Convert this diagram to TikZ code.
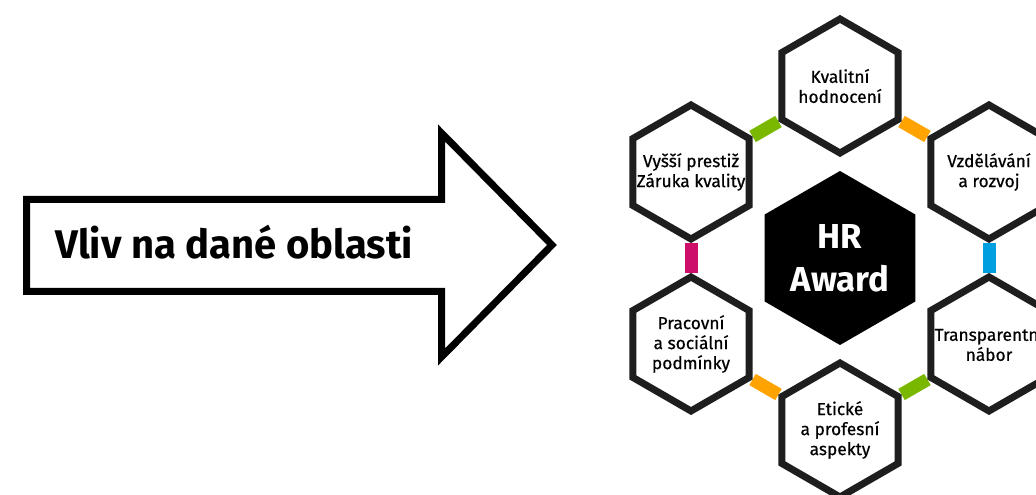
\documentclass[tikz,border=0pt]{standalone}
\usepackage{fontspec}
\setmainfont{Fira Sans}
\newfontfamily\hexfont{Fira Sans}[FakeBold=0.6]
\usetikzlibrary{shapes.geometric,backgrounds}

\definecolor{hexline}{RGB}{30,30,30}
\definecolor{hrgreen}{RGB}{122,184,0}
\definecolor{hrorange}{RGB}{255,163,0}
\definecolor{hrblue}{RGB}{0,160,224}
\definecolor{hrmagenta}{RGB}{206,15,105}

\tikzset{
  hexbox/.style={regular polygon, regular polygon sides=6, shape border rotate=30,
    minimum size=100.5pt, inner sep=0pt, draw=hexline, line width=5.25pt, fill=white,
    line join=miter},
  hextext/.style={inner sep=0pt, align=center, font=\fontsize{13}{15}\selectfont\hexfont},
  hexcore/.style={regular polygon, regular polygon sides=6, shape border rotate=30,
    minimum size=130.5pt, inner sep=0pt, fill=black, text=white, align=center,
    font=\fontsize{26}{32}\selectfont\bfseries},
  hexlink/.style={line width=9.75pt}
}

\begin{document}
\begin{tikzpicture}[x=0.75pt,y=0.75pt,yscale=-1,xscale=1]
\useasboundingbox (0,0) rectangle (1036,495);

%Shape: Right Arrow
\draw [line width=5.25pt, line join=miter] (26.5,199.5) -- (441.5,199.5) -- (441.5,133) -- (552,245) -- (441.5,357) -- (441.5,291.5) -- (26.5,291.5) -- cycle ;

% Text Node
\draw (55,259) node (vliv) [anchor=base west][inner sep=0pt] {\fontsize{30}{36}\selectfont\bfseries Vliv na dané oblasti};

%Shape: Hexagons
\node (hr) [hexcore] at (840,258) {HR\\Award};
\node (top) [hexbox] at (840,86) {};
\node (ur) [hexbox] at (989,172) {};
\node (lr) [hexbox] at (989,344) {};
\node (bot) [hexbox] at (840,430) {};
\node (ll) [hexbox] at (691,344) {};
\node (ul) [hexbox] at (691,172) {};

% Text Node
\node (toptext) [hextext] at (top) {Kvalitní\\hodnocení};
% Text Node
\node (urtext) [hextext] at (ur) {Vzdělávání\\a rozvoj};
% Text Node
\node (lrtext) [hextext] at (lr) {Transparentní\\nábor};
% Text Node
\node (bottext) [hextext] at (bot) {Etické\\a profesní\\aspekty};
% Text Node
\node (lltext) [hextext] at (ll) {Pracovní\\a sociální\\podmínky};
% Text Node
\node (ultext) [hextext] at (ul) {Vyšší prestiž\\Záruka kvality};

%Straight Lines
\begin{scope}[on background layer]
\draw [hexlink, hrgreen] (ul) -- (top) ;
\draw [hexlink, hrorange] (top) -- (ur) ;
\draw [hexlink, hrblue] (ur) -- (lr) ;
\draw [hexlink, hrgreen] (lr) -- (bot) ;
\draw [hexlink, hrorange] (bot) -- (ll) ;
\draw [hexlink, hrmagenta] (ll) -- (ul) ;
\end{scope}

\end{tikzpicture}
\end{document}
